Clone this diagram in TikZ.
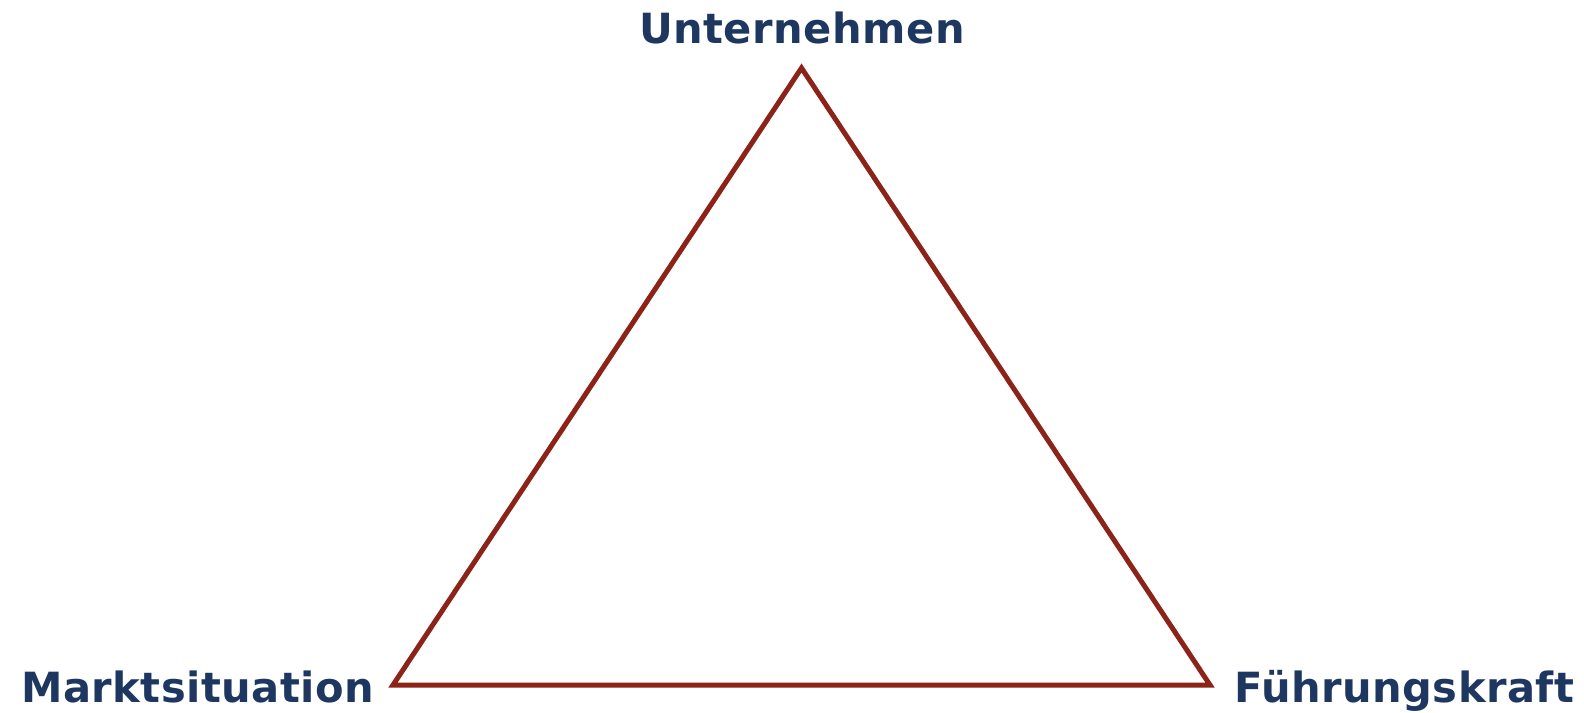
\documentclass[tikz,border=0pt]{standalone}
\usepackage{fontspec}
\setmainfont{DejaVu Sans}[LetterSpace=1.2]
\definecolor{tri}{HTML}{8B2318}
\definecolor{lab}{HTML}{1D3760}
\begin{document}
\begin{tikzpicture}[x=1pt,y=-1pt,
  lbl/.style={inner sep=0pt,text=lab,font=\fontsize{41.6}{48}\selectfont\bfseries},
  edge/.style={draw=tri,line width=5pt,line join=miter}]
\useasboundingbox (0,0) rectangle (1584,712);
\coordinate (A) at (801.5,68);
\coordinate (B) at (393,685);
\coordinate (C) at (1210,685);
\draw[edge] (A) -- (B) -- (C) -- cycle;
\node[lbl,anchor=base] (u) at (802,43) {Unternehmen};
\node[lbl,anchor=base west] (m) at (21,702) {Marktsituation};
\node[lbl,anchor=base west] (f) at (1234,702) {Führungskraft};
\end{tikzpicture}
\end{document}
